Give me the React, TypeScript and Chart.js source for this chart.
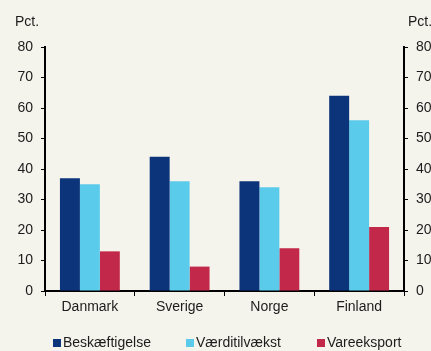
import React, { useEffect, useRef } from "react";
import { Chart, registerables } from "chart.js";

Chart.register(...registerables);

const categories = ["Danmark", "Sverige", "Norge", "Finland"];
const beskaeftigelse = [37, 44, 36, 64];
const vaerditilvaekst = [35, 36, 34, 56];
const vareeksport = [13, 8, 14, 21];
const seriesNames = ["Beskæftigelse", "Værditilvækst", "Vareeksport"];
const yMin = 0;
const yMax = 80;
const yStep = 10;
const unitLabel = "Pct.";

const BG = "#f5f4ec";
const FONT = "'Liberation Sans', Arial, sans-serif";
const TEXT = "#1c1c1c";
const COLORS = ["#0b347a", "#5bcbeb", "#c1284a"];

const decorPlugin = {
  id: "decor",
  beforeDraw(chart: any) {
    const ctx = chart.ctx;
    ctx.save();
    ctx.fillStyle = BG;
    ctx.fillRect(0, 0, chart.width, chart.height);
    ctx.restore();
  },
  afterDraw(chart: any) {
    const ctx = chart.ctx;
    const area = chart.chartArea;
    ctx.save();
    ctx.font = `14px ${FONT}`;
    ctx.fillStyle = TEXT;
    ctx.textBaseline = "middle";
    ctx.textAlign = "left";
    ctx.fillText(unitLabel, area.left - 30, 22);
    ctx.fillText(unitLabel, area.right + 4, 22);

    // legend
    const legendX = [53, 186, 317];
    const boxY = 339;
    chart.data.datasets.forEach((ds: any, i: number) => {
      ctx.fillStyle = ds.backgroundColor;
      ctx.fillRect(legendX[i], boxY, 8, 8);
      ctx.fillStyle = TEXT;
      ctx.fillText(ds.label, legendX[i] + 10, boxY + 4.5);
    });
    ctx.restore();
  },
};

export default function App() {
  const ref = useRef<HTMLCanvasElement | null>(null);

  useEffect(() => {
    document.body.style.margin = "0";
    document.body.style.background = BG;
    const canvas = ref.current;
    if (!canvas) return;

    const axisCommon = {
      border: { display: true, color: "#000", width: 2 },
      ticks: {
        color: TEXT,
        font: { family: FONT, size: 14 },
      },
    };

    const chart = new Chart(canvas, {
      type: "bar",
      data: {
        labels: categories,
        datasets: [
          { label: seriesNames[0], data: beskaeftigelse, backgroundColor: COLORS[0], yAxisID: "y" },
          { label: seriesNames[1], data: vaerditilvaekst, backgroundColor: COLORS[1], yAxisID: "y" },
          { label: seriesNames[2], data: vareeksport, backgroundColor: COLORS[2], yAxisID: "y" },
        ],
      },
      plugins: [decorPlugin],
      options: {
        responsive: false,
        animation: false,
        devicePixelRatio: 1,
        layout: { padding: { top: 47, left: 0, right: 0, bottom: 0 } },
        datasets: {
          bar: { categoryPercentage: 0.667, barPercentage: 1.0 },
        },
        plugins: {
          legend: { display: false },
          tooltip: { enabled: false },
        },
        scales: {
          x: {
            ...axisCommon,
            offset: true,
            grid: {
              offset: true,
              drawOnChartArea: false,
              drawTicks: true,
              tickLength: 5,
              color: "#000",
              lineWidth: 1,
            },
            ticks: { ...axisCommon.ticks, padding: 3, maxRotation: 0 },
            afterFit(scale: any) {
              scale.height = 60;
            },
          },
          y: {
            ...axisCommon,
            position: "left",
            min: yMin,
            max: yMax,
            grid: {
              drawOnChartArea: false,
              drawTicks: true,
              tickLength: 4,
              color: "#000",
              lineWidth: 1,
            },
            ticks: { ...axisCommon.ticks, stepSize: yStep, padding: 8 },
            afterFit(scale: any) {
              scale.width = 45;
            },
          },
          y2: {
            ...axisCommon,
            position: "right",
            min: yMin,
            max: yMax,
            grid: {
              drawOnChartArea: false,
              drawTicks: true,
              tickLength: 4,
              color: "#000",
              lineWidth: 1,
            },
            ticks: { ...axisCommon.ticks, stepSize: yStep, padding: 8 },
            afterFit(scale: any) {
              scale.width = 27;
            },
          },
        },
      },
    } as any);

    return () => chart.destroy();
  }, []);

  return (
    <div style={{ width: 431, height: 351, background: BG }}>
      <canvas ref={ref} width={431} height={351} style={{ display: "block" }} />
    </div>
  );
}
